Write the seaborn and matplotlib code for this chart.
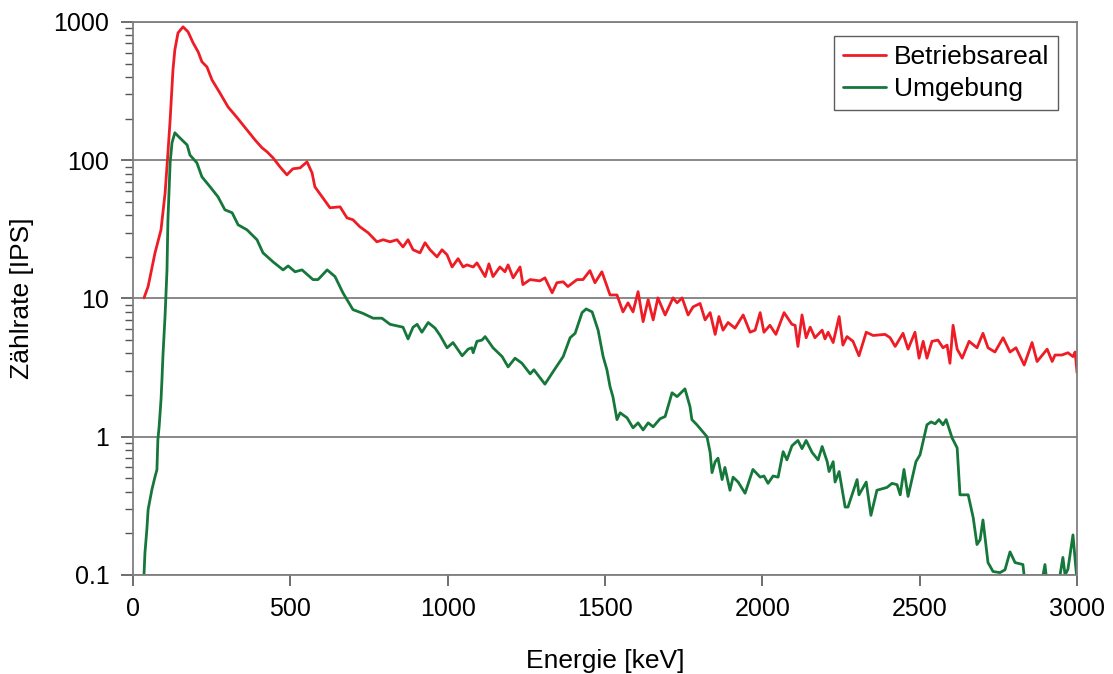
import numpy as np
import pandas as pd
import matplotlib
matplotlib.use("Agg")
import matplotlib.pyplot as plt
import matplotlib.ticker as mticker
import seaborn as sns

# Betriebsareal (red) - energy [keV], rate [IPS]
betrieb_e = [35, 48, 70, 89, 102, 111, 118, 127, 133, 143, 159, 175, 191, 207, 219, 235,
             251, 276, 302, 331, 362, 388, 410, 426, 445, 467, 489, 508, 531, 553, 569, 578,
             601, 626, 658, 680, 699, 721, 747, 775, 795, 817, 839, 858, 874, 890, 912, 928,
             944, 966, 982, 998, 1014, 1033, 1049, 1061, 1081, 1093, 1119, 1131, 1144, 1166,
             1182, 1192, 1208, 1230, 1239, 1262, 1293, 1309, 1332, 1347, 1367, 1382, 1411,
             1430, 1452, 1468, 1490, 1516, 1538, 1557, 1573, 1589, 1605, 1621, 1637, 1653,
             1668, 1691, 1716, 1729, 1745, 1764, 1780, 1802, 1818, 1834, 1850, 1862, 1875,
             1891, 1913, 1939, 1961, 1977, 1993, 2005, 2024, 2043, 2069, 2094, 2104, 2113,
             2126, 2139, 2152, 2167, 2190, 2199, 2209, 2225, 2244, 2256, 2269, 2288, 2307,
             2330, 2352, 2390, 2406, 2422, 2447, 2463, 2485, 2498, 2511, 2523, 2539, 2558,
             2574, 2587, 2596, 2606, 2619, 2635, 2657, 2682, 2701, 2717, 2739, 2765, 2787,
             2806, 2832, 2857, 2873, 2905, 2921, 2930, 2952, 2971, 2987, 2994, 3000]
betrieb_r = [10.1, 12.2, 21.4, 31.4, 58, 113, 196, 451, 629, 834, 922, 848, 706, 608, 515, 473,
             381, 307, 243, 203, 166, 140, 123, 115, 104, 89.6, 78.4, 86.7, 88, 97.3, 81, 64.2,
             54.4, 45.3, 46, 38.3, 37.1, 33, 29.9, 25.7, 26.6, 25.7, 26.6, 23.6, 26.6, 22.5, 21.4, 25.3,
             22.5, 20, 22.5, 20.7, 16.9, 19.4, 16.9, 17.5, 16.9, 18.1, 14.4, 17.8, 14.4, 16.9,
             15.6, 17.5, 14.1, 16.9, 12.6, 13.7, 13.4, 14.1, 11.0, 13.0, 13.2, 12.2, 13.7,
             13.7, 15.9, 13.0, 15.6, 10.6, 10.6, 8.0, 9.3, 8.0, 11.2, 6.8, 9.8, 7.0,
             10.1, 7.6, 10.1, 9.3, 10.1, 7.6, 8.7, 9.2, 7.0, 7.9, 5.5, 7.4, 5.9,
             6.7, 6.1, 7.6, 5.7, 5.9, 7.9, 5.7, 6.4, 5.5, 7.9, 6.5, 6.4, 4.5,
             7.6, 5.2, 6.2, 5.2, 5.9, 5.1, 5.7, 4.8, 7.4, 4.6, 5.3, 4.9, 3.85,
             5.7, 5.4, 5.5, 5.2, 4.5, 5.6, 4.3, 5.7, 3.7, 4.9, 3.7, 4.9, 5.0,
             4.4, 4.6, 3.4, 6.4, 4.3, 3.7, 4.9, 4.4, 5.6, 4.4, 4.1, 5.2, 4.1,
             4.4, 3.3, 4.8, 3.5, 4.3, 3.5, 3.9, 3.9, 4.05, 3.8, 4.1, 2.9]

# Umgebung (green)
umgeb_e = [33, 38, 44, 48, 60, 70, 76, 79, 83, 89, 92, 95, 99, 102, 108, 111, 118, 124, 133,
           149, 172, 181, 203, 219, 245, 270, 292, 315, 334, 362, 394, 413, 445, 477, 493,
           515, 537, 572, 588, 617, 642, 667, 699, 731, 763, 791, 817, 858, 874, 890, 903,
           918, 938, 960, 976, 998, 1017, 1046, 1065, 1077, 1081, 1093, 1109, 1119, 1144,
           1173, 1192, 1214, 1236, 1262, 1274, 1309, 1341, 1367, 1389, 1405, 1427, 1440,
           1459, 1478, 1494, 1506, 1516, 1525, 1538, 1548, 1570, 1589, 1605, 1621, 1637,
           1653, 1675, 1691, 1713, 1729, 1754, 1770, 1776, 1792, 1824, 1834, 1840, 1850,
           1859, 1872, 1881, 1897, 1907, 1923, 1945, 1970, 1993, 2005, 2018, 2034, 2050,
           2066, 2078, 2094, 2113, 2126, 2139, 2158, 2177, 2190, 2206, 2212, 2225, 2231,
           2244, 2263, 2272, 2301, 2307, 2330, 2345, 2364, 2396, 2412, 2428, 2438, 2450,
           2463, 2488, 2501, 2523, 2536, 2549, 2561, 2574, 2584, 2603, 2619, 2628, 2654,
           2670, 2682, 2692, 2701, 2717, 2733, 2755, 2771, 2787, 2803, 2828, 2835, 2867,
           2892, 2898, 2905, 2930, 2946, 2955, 2962, 2971, 2987, 3000]
umgeb_r = [0.08, 0.145, 0.213, 0.297, 0.414, 0.514, 0.577, 0.95, 1.18, 1.85, 2.58, 3.79, 5.65,
           7.6, 16.1, 37, 95.8, 134, 158, 145, 129, 109, 95.8, 75.8, 64.2, 54.4, 43.8, 41.7,
           34.1, 31.4, 26.6, 21.4, 18.4, 16.1, 17.2, 15.6, 16.1, 13.7, 13.7, 16.1, 14.4, 11.0,
           8.3, 7.8, 7.2, 7.2, 6.5, 6.2, 5.1, 6.2, 6.5, 5.7, 6.7, 6.1, 5.4, 4.4, 4.8, 3.85,
           4.3, 4.4, 4.05, 4.9, 5.0, 5.3, 4.4, 3.8, 3.2, 3.7, 3.4, 2.85, 3.05, 2.4, 3.1, 3.8,
           5.2, 5.6, 7.9, 8.4, 8.0, 5.9, 3.8, 3.05, 2.3, 1.95, 1.33, 1.49, 1.37, 1.16, 1.26,
           1.12, 1.26, 1.18, 1.35, 1.40, 2.08, 1.95, 2.22, 1.65, 1.33, 1.22, 1.0, 0.77, 0.55,
           0.66, 0.70, 0.49, 0.60, 0.41, 0.51, 0.47, 0.39, 0.58, 0.51, 0.52, 0.46, 0.52, 0.51,
           0.78, 0.68, 0.86, 0.94, 0.82, 0.94, 0.77, 0.68, 0.85, 0.66, 0.56, 0.66, 0.47,
           0.56, 0.31, 0.31, 0.49, 0.38, 0.47, 0.27, 0.41, 0.43, 0.46, 0.45, 0.38, 0.58,
           0.37, 0.66, 0.74, 1.22, 1.28, 1.24, 1.33, 1.22, 1.33, 0.98, 0.83, 0.38, 0.38,
           0.26, 0.166, 0.18, 0.25, 0.123, 0.106, 0.104, 0.109, 0.147, 0.123, 0.119, 0.085, 0.075,
           0.1, 0.119, 0.085, 0.08, 0.1, 0.134, 0.1, 0.11, 0.195, 0.09]

series = ["Betriebsareal", "Umgebung"]
colors = ["#ee1c25", "#16773a"]

df = pd.concat([
    pd.DataFrame({"Energie": betrieb_e, "Rate": betrieb_r, "Serie": series[0]}),
    pd.DataFrame({"Energie": umgeb_e, "Rate": umgeb_r, "Serie": series[1]}),
])

sns.set_style("white")
plt.rcParams["font.family"] = ["Liberation Sans", "DejaVu Sans"]
plt.rcParams["text.color"] = "black"
plt.rcParams["axes.labelcolor"] = "black"
plt.rcParams["xtick.color"] = "black"
plt.rcParams["ytick.color"] = "black"

fig = plt.figure(figsize=(11.13, 6.74), dpi=100)
ax = fig.add_axes([0.1195, 0.1469, 0.8482, 0.8205])

sns.lineplot(data=df, x="Energie", y="Rate", hue="Serie", palette=dict(zip(series, colors)),
             estimator=None, sort=False, linewidth=2.0, ax=ax)

ax.set_yscale("log")
ax.set_xlim(0, 3000)
ax.set_ylim(0.1, 1000)
ax.set_xticks(np.arange(0, 3001, 500))
ax.set_yticks([0.1, 1, 10, 100, 1000])
ax.yaxis.set_major_formatter(mticker.FuncFormatter(lambda v, p: f"{v:g}"))
ax.yaxis.set_minor_locator(mticker.LogLocator(base=10, subs=np.arange(2, 10)))
ax.yaxis.set_minor_formatter(mticker.NullFormatter())

ax.grid(True, axis="y", which="major", color="#7f7f7f", linewidth=1.3)
ax.grid(False, axis="x")
ax.set_axisbelow(True)

for s in ax.spines.values():
    s.set_color("#7f7f7f")
    s.set_linewidth(1.3)
    s.set_visible(True)

ax.tick_params(axis="both", which="major", direction="out", length=9, width=1.2,
               color="#555555", labelcolor="black", labelsize=18, pad=8,
               left=True, bottom=True)
ax.tick_params(axis="y", which="minor", direction="out", length=6, width=1.0,
               color="#555555", left=True)
ax.tick_params(axis="x", which="major", length=8)

ax.set_xlabel("Energie [keV]", fontsize=19, labelpad=20)
ax.set_ylabel("Zählrate [IPS]", fontsize=19, labelpad=14)

leg = ax.legend(loc="upper right", bbox_to_anchor=(0.98, 0.975), fontsize=19, frameon=True,
                fancybox=False, edgecolor="#333333", handlelength=1.6, handletextpad=0.3,
                borderpad=0.35, labelspacing=0.3, borderaxespad=0)
leg.get_frame().set_linewidth(1.0)
for t in leg.get_texts():
    t.set_color("black")

fig.savefig("out.png", dpi=100)
